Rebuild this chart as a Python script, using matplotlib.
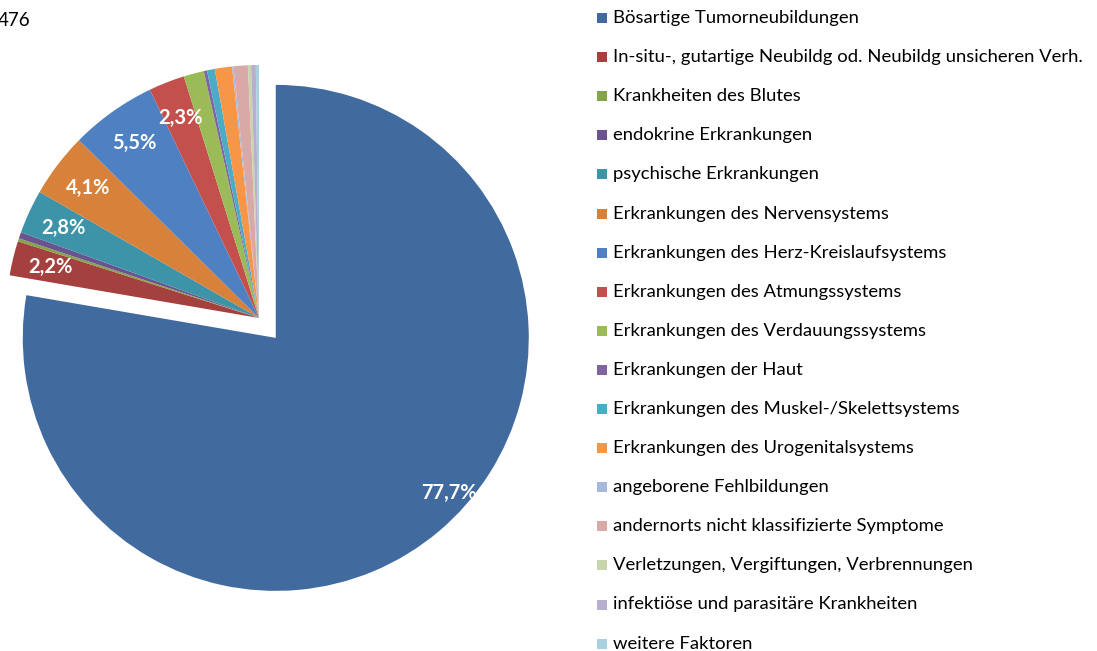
import numpy as np
import matplotlib
matplotlib.use("Agg")
import matplotlib.pyplot as plt
from matplotlib.patches import Rectangle

categories = [
    "Bösartige Tumorneubildungen",
    "In-situ-, gutartige Neubildg od. Neubildg unsicheren Verh.",
    "Krankheiten des Blutes",
    "endokrine Erkrankungen",
    "psychische Erkrankungen",
    "Erkrankungen des Nervensystems",
    "Erkrankungen des Herz-Kreislaufsystems",
    "Erkrankungen des Atmungssystems",
    "Erkrankungen des Verdauungssystems",
    "Erkrankungen der Haut",
    "Erkrankungen des Muskel-/Skelettsystems",
    "Erkrankungen des Urogenitalsystems",
    "angeborene Fehlbildungen",
    "andernorts nicht klassifizierte Symptome",
    "Verletzungen, Vergiftungen, Verbrennungen",
    "infektiöse und parasitäre Krankheiten",
    "weitere Faktoren",
]
values = [77.7, 2.2, 0.2, 0.4, 2.8, 4.1, 5.5, 2.3, 1.3, 0.2, 0.5, 1.1, 0.1, 0.9, 0.2, 0.3, 0.2]
shown_labels = ["77,7%", "2,2%", "", "", "2,8%", "4,1%", "5,5%", "2,3%",
                "", "", "", "", "", "", "", "", ""]
colors = ["#416A9E", "#A4403D", "#86A44A", "#6B5390", "#3D93A8", "#D7813B",
          "#4F81C2", "#C4504D", "#9BBB59", "#8064A2", "#4BACC6", "#F79646",
          "#A7B9DA", "#D9A9A8", "#C6D6AA", "#B8AECD", "#A8D0DE"]
corner_text = "476"

W, H = 1097, 651
fig = plt.figure(figsize=(W / 100, H / 100), dpi=100)
ax = fig.add_axes([0, 0, 1, 1])

cx, cy, R = 259, H - 318, 253
explode = [26] + [0] * (len(values) - 1)
wedges, _ = ax.pie(values, colors=colors, startangle=90, counterclock=False,
                   center=(cx, cy), radius=R, explode=explode,
                   wedgeprops=dict(linewidth=0), frame=True)
ax.set_xlim(0, W)
ax.set_ylim(0, H)
ax.set_aspect("equal")
ax.axis("off")

for i, (w, lab) in enumerate(zip(wedges, shown_labels)):
    if not lab:
        continue
    mid = np.deg2rad((w.theta1 + w.theta2) / 2)
    wx, wy = w.center
    if i == 0:
        mid += np.deg2rad(8)
        rf = 0.92
    else:
        rf = 0.85
    x = wx + rf * R * np.cos(mid)
    y = wy + rf * R * np.sin(mid)
    ax.text(x, y, lab, ha="center", va="center", color="white",
            fontsize=14.5, fontweight="bold", family="Lato")

ax.text(-2, H - 21, corner_text, ha="left", va="center", fontsize=13.5,
        family="Lato", color="black")

y0, dy = 18, 39.1
for i, (cat, col) in enumerate(zip(categories, colors)):
    yc = H - (y0 + i * dy)
    ax.add_patch(Rectangle((597, yc - 5), 10, 10, facecolor=col, edgecolor="none"))
    ax.text(613, yc, cat, ha="left", va="center", fontsize=13.3,
            family="Lato", color="black")

fig.savefig("out.png", dpi=100)
